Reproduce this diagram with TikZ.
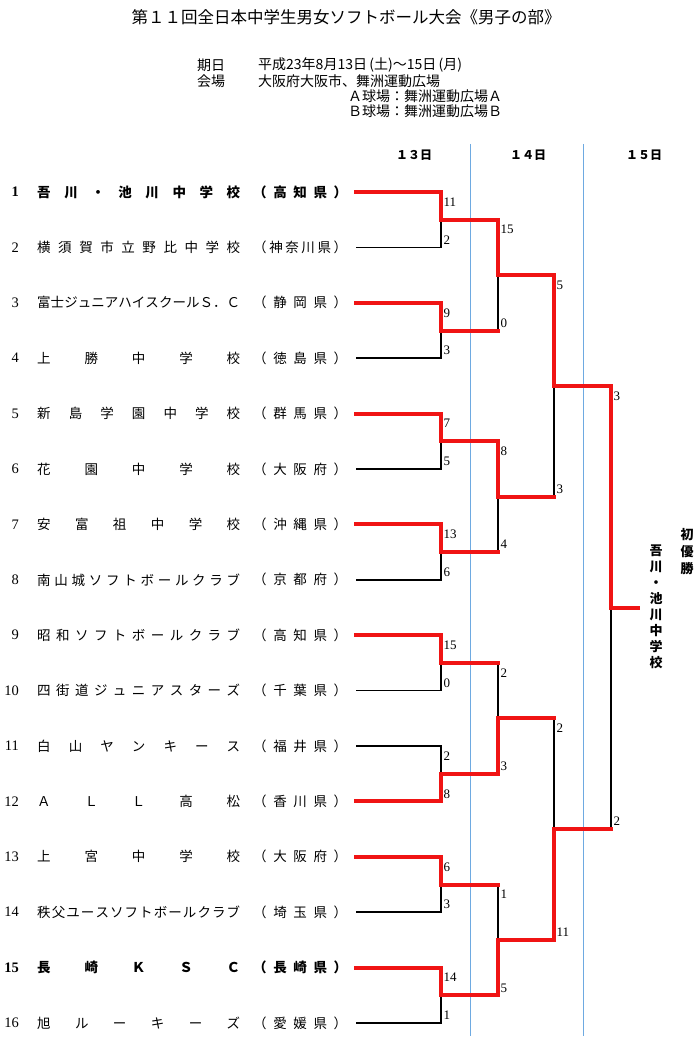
\documentclass[tikz,border=0pt]{standalone}
\usepackage{fontspec}
\setmainfont{Liberation Serif}
\newfontfamily\jp{Noto Sans CJK JP}
\usetikzlibrary{calc}
\definecolor{winred}{RGB}{240,20,20}
\definecolor{guideblue}{RGB}{110,170,225}
\def\spreadtxt#1{\spreadaux#1\spreadstop}
\def\spreadaux#1#2\spreadstop{#1\if\relax\detokenize{#2}\relax\else\hfill\spreadaux#2\spreadstop\fi}
\newcommand\teamname[1]{\hbox to 203pt{\expandafter\spreadtxt\expandafter{#1}}}
\newcommand\prefname[1]{\hbox to 94pt{\expandafter\spreadtxt\expandafter{#1}}}
\tikzset{
  num/.style={anchor=east, inner sep=0pt, font=\fontsize{14.5}{14.5}\selectfont},
  tname/.style={anchor=west, inner sep=0pt, font=\jp\fontsize{13.5}{13.5}\selectfont},
  score/.style={anchor=west, inner sep=0pt, xshift=2.5pt, font=\fontsize{13}{13}\selectfont},
  sct/.style={score, yshift=-10pt},
  scb/.style={score, yshift=7.5pt},
  win/.style={draw=winred, line width=4pt, line cap=rect, line join=miter},
  lose/.style={draw=black, line width=1.5pt},
  guide/.style={draw=guideblue, line width=0.8pt},
  hdr/.style={anchor=west, inner sep=0pt, font=\jp\fontsize{14}{14}\selectfont},
  day/.style={inner sep=0pt, font=\jp\bfseries\fontsize{12}{12}\selectfont},
  vert/.style={anchor=north, inner sep=0pt, align=center},
}
\begin{document}
\begin{tikzpicture}[x=1pt,y=-1pt]
\useasboundingbox (0,0) rectangle (700,1043);
% title and header
\node[inner sep=0pt, font=\jp\fontsize{16.5}{16.5}\selectfont] (title) at (346,17) {第１１回全日本中学生男女ソフトボール大会《男子の部》};
\node[hdr] (h1) at (197,65) {期日};
\node[hdr] (h1v) at (258,65) {平成23年8月13日\,(土)～15日\,(月)};
\node[hdr] (h2) at (197,81) {会場};
\node[hdr] (h2v) at (258,81) {大阪府大阪市、舞洲運動広場};
\node[hdr] (h3) at (348,96) {Ａ球場：舞洲運動広場Ａ};
\node[hdr] (h4) at (348,111) {Ｂ球場：舞洲運動広場Ｂ};
\node[day] (d13) at (414,155) {１３日};
\node[day] (d14) at (528,155) {１４日};
\node[day] (d15) at (644,155) {１５日};
% guide lines
\coordinate (b1t) at (470,144); \coordinate (b1b) at (470,1036);
\coordinate (b2t) at (583,144); \coordinate (b2b) at (583,1036);
\draw[guide] (b1t) -- (b1b);
\draw[guide] (b2t) -- (b2b);
% coordinates
\foreach \i in {1,...,16} \coordinate (s\i) at (356,{192+(\i-1)*55.4});
\foreach \k in {1,...,8} \coordinate (g\k) at (441,{192+(2*\k-1.5)*55.4});
\foreach \k [evaluate=\k as \m using int(\k+8)] in {1,...,4} \coordinate (g\m) at (498,{192+(4*\k-2.5)*55.4});
\coordinate (g13) at (554,{192+3.5*55.4});
\coordinate (g14) at (554,{192+11.5*55.4});
\coordinate (g15) at (611,{192+7.5*55.4});
\coordinate (champ) at (638,{192+7.5*55.4});
% teams
\foreach \i/\tsty/\tnm/\tpf in {
 1/\bfseries/吾川・池川中学校/（高知県）,
 2/\relax/横須賀市立野比中学校/（神奈川県）,
 3/\relax/富士ジュニアハイスクールＳ．Ｃ/（静岡県）,
 4/\relax/上勝中学校/（徳島県）,
 5/\relax/新島学園中学校/（群馬県）,
 6/\relax/花園中学校/（大阪府）,
 7/\relax/安富祖中学校/（沖縄県）,
 8/\relax/南山城ソフトボールクラブ/（京都府）,
 9/\relax/昭和ソフトボールクラブ/（高知県）,
 10/\relax/四街道ジュニアスターズ/（千葉県）,
 11/\relax/白山ヤンキース/（福井県）,
 12/\relax/ＡＬＬ高松/（香川県）,
 13/\relax/上宮中学校/（大阪府）,
 14/\relax/秩父ユースソフトボールクラブ/（埼玉県）,
 15/\bfseries/長崎ＫＳＣ/（長崎県）,
 16/\relax/旭ルーキーズ/（愛媛県）}
{
 \node[num] (num\i) at (19,{192+(\i-1)*55.4}) {\tsty\i};
 \node[tname] (name\i) at (37,{192+(\i-1)*55.4}) {\tsty\teamname{\tnm}};
 \node[tname] (pref\i) at (253,{192+(\i-1)*55.4}) {\tsty\prefname{\tpf}};
}
% losing lines (black)
\draw[lose] (s2) -| (g1);
\draw[lose] (s4) -| (g2);
\draw[lose] (s6) -| (g3);
\draw[lose] (s8) -| (g4);
\draw[lose] (s10) -| (g5);
\draw[lose] (s11) -| (g6);
\draw[lose] (s14) -| (g7);
\draw[lose] (s16) -| (g8);
\draw[lose] (g2 -| g9) -- (g9);
\draw[lose] (g4 -| g10) -- (g10);
\draw[lose] (g5 -| g11) -- (g11);
\draw[lose] (g7 -| g12) -- (g12);
\draw[lose] (g10 -| g13) -- (g13);
\draw[lose] (g11 -| g14) -- (g14);
\draw[lose] (g14 -| g15) -- (g15);
% winning lines (red)
\draw[win] (s1) -| (g1) -| (g9) -| (g13) -| (g15) -- (champ);
\draw[win] (s3) -| (g2) -- (g2 -| g9);
\draw[win] (s5) -| (g3) -| (g10) -- (g10 -| g13);
\draw[win] (s7) -| (g4) -- (g4 -| g10);
\draw[win] (s9) -| (g5) -- (g5 -| g11);
\draw[win] (s12) -| (g6) -| (g11) -- (g11 -| g14);
\draw[win] (s13) -| (g7) -- (g7 -| g12);
\draw[win] (s15) -| (g8) -| (g12) -| (g14) -- (g14 -| g15);
% scores
\foreach \g/\t/\b/\vt/\vb in {
 g1/s1/s2/11/2, g2/s3/s4/9/3, g3/s5/s6/7/5, g4/s7/s8/13/6,
 g5/s9/s10/15/0, g6/s11/s12/2/8, g7/s13/s14/6/3, g8/s15/s16/14/1,
 g9/g1/g2/15/0, g10/g3/g4/8/4, g11/g5/g6/2/3, g12/g7/g8/1/5,
 g13/g9/g10/5/3, g14/g11/g12/2/11, g15/g13/g14/3/2}
{
 \node[sct] (top\g) at (\g |- \t) {\vt};
 \node[scb] (bot\g) at (\g |- \b) {\vb};
}
% champion
\node[vert, font=\jp\bfseries\fontsize{13}{17}\selectfont] (title1) at (687,528) {初\\優\\勝};
\node[vert, font=\jp\bfseries\fontsize{13}{15.9}\selectfont] (winner) at (656,545) {吾\\川\\・\\池\\川\\中\\学\\校};
\end{tikzpicture}
\end{document}
